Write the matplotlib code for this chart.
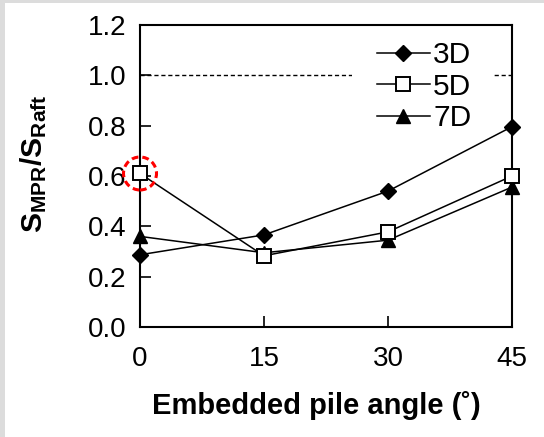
import matplotlib
matplotlib.use("Agg")
import matplotlib.pyplot as plt
import matplotlib.transforms as mtransforms
from matplotlib.patches import Circle, Rectangle

plt.rcParams['font.family'] = ['Liberation Sans', 'DejaVu Sans']
plt.rcParams['mathtext.fontset'] = 'custom'
plt.rcParams['mathtext.rm'] = 'Liberation Sans'
plt.rcParams['mathtext.bf'] = 'Liberation Sans:bold'
plt.rcParams['mathtext.it'] = 'Liberation Sans:italic'

angles = [0, 15, 30, 45]
s_3d = [0.287, 0.366, 0.54, 0.796]
s_5d = [0.61, 0.283, 0.378, 0.60]
s_7d = [0.36, 0.295, 0.345, 0.556]
series_labels = ['3D', '5D', '7D']
yticks = [0.0, 0.2, 0.4, 0.6, 0.8, 1.0, 1.2]
reference_level = 1.0
highlight = (0, 0.61)

W, H = 544, 437
dpi = 100
fig = plt.figure(figsize=(W / dpi, H / dpi), dpi=dpi)
fig.patch.set_facecolor('#dcdcdc')
fig.patches.append(Rectangle((5 / W, 0), 1, 1 - 3 / H, transform=fig.transFigure,
                             facecolor='white', edgecolor='none', zorder=-10))

ax = fig.add_axes([140 / W, 1 - 327 / H, (512 - 140) / W, (327 - 25) / H])
ax.set_facecolor('white')

ax.axhline(reference_level, color='black', lw=1.0, ls=(0, (3, 2)), zorder=1)

lw = 1.1
ax.plot(angles, s_3d, color='black', lw=lw, marker='D', ms=8.5, mfc='black', mec='black',
        label=series_labels[0], zorder=3, clip_on=False)
ax.plot(angles, s_5d, color='black', lw=lw, marker='s', ms=10, mfc='white', mec='black',
        mew=1.4, label=series_labels[1], zorder=4, clip_on=False)
ax.plot(angles, s_7d, color='black', lw=lw, marker='^', ms=10.5, mfc='black', mec='black',
        label=series_labels[2], zorder=3, clip_on=False)

# red dashed circle highlight
tr = fig.dpi_scale_trans + mtransforms.ScaledTranslation(highlight[0], highlight[1], ax.transData)
circ = Circle((0, 0), radius=16.5 / dpi, transform=tr, fill=False, edgecolor='#ff0000',
              lw=2.2, ls=(0, (2.2, 1.3)), clip_on=False, zorder=6)
fig.patches.append(circ)

ax.set_xlim(0, 45)
ax.set_ylim(0, 1.2)
ax.set_xticks(angles)
ax.set_xticklabels([str(a) for a in angles])
ax.set_yticks(yticks)
ax.set_yticklabels([f'{v:.1f}' for v in yticks])
ax.tick_params(axis='both', direction='in', length=8, width=1.2, labelsize=20,
               top=False, right=False)
ax.tick_params(axis='x', pad=14)
ax.tick_params(axis='y', pad=10)
for sp in ax.spines.values():
    sp.set_linewidth(1.5)

ax.set_xlabel('Embedded pile angle (˚)', fontsize=21, fontweight='bold')
ax.xaxis.set_label_coords(0.475, -0.212)
ax.set_ylabel(r'$\mathbf{S_{MPR}/S_{Raft}}$', fontsize=21.5)
ax.yaxis.set_label_coords(-0.245, 0.54)

leg = ax.legend(loc='upper left', bbox_to_anchor=(0.638, 0.947), frameon=False, fontsize=21.5,
                handlelength=1.75, handletextpad=0.12, labelspacing=0.12, borderpad=0.0,
                borderaxespad=0.0)
leg.set_zorder(5)

# white backing behind the legend (hides the reference line there)
fig.canvas.draw()
bb = leg.get_window_extent()
inv = fig.transFigure.inverted()
(x0, y0), (x1, y1) = inv.transform([(bb.x0 - 25, bb.y0), (bb.x1 + 22, bb.y1)])
ax.add_patch(Rectangle((x0, y0), x1 - x0, y1 - y0, transform=fig.transFigure,
                       facecolor='white', edgecolor='none', zorder=1.5, clip_on=False))

fig.savefig('out.png', dpi=dpi, facecolor=fig.get_facecolor())
